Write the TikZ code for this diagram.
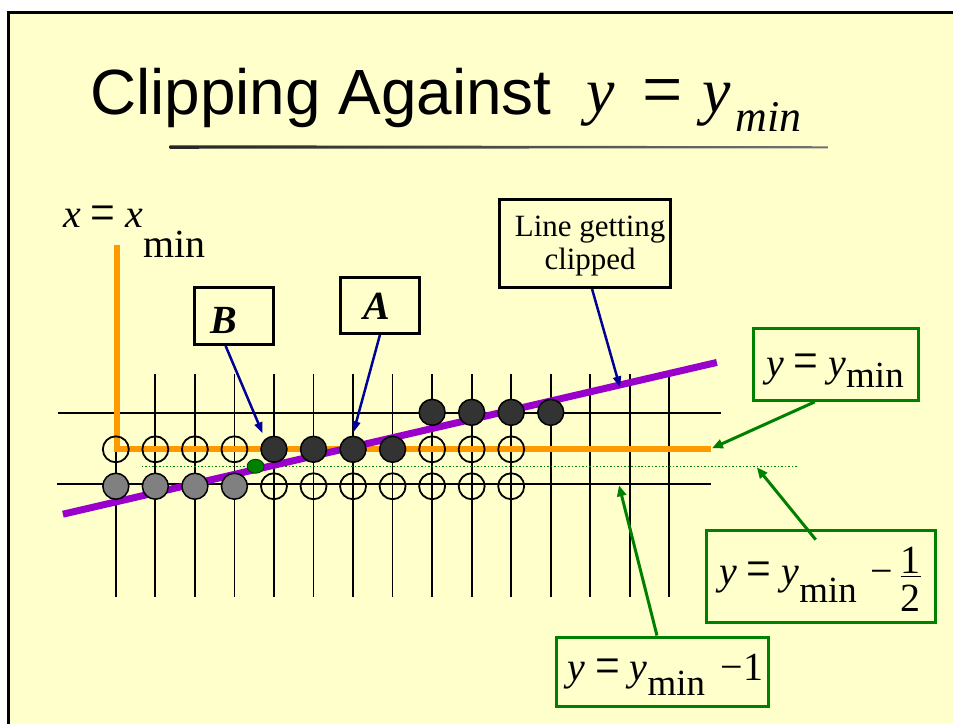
\documentclass[tikz,border=0pt]{standalone}
\usepackage{fontspec}
\usepackage{graphicx}
\setmainfont{Liberation Serif}
\newfontfamily\titlesans{Liberation Sans}
\usetikzlibrary{arrows.meta,calc,shapes.geometric}
\definecolor{bgyellow}{HTML}{FFFFCC}
\definecolor{orng}{HTML}{FF9900}
\definecolor{purp}{HTML}{9900CC}
\definecolor{navy}{HTML}{000099}
\definecolor{grn}{HTML}{008000}
\definecolor{darkc}{HTML}{333333}
\definecolor{grayc}{HTML}{808080}
\newcommand{\bigeq}{\raisebox{-3.5pt}{\scalebox{1.1}[1.4]{=}}}
\begin{document}
\begin{tikzpicture}[x=1pt,y=-1pt,
  gridline/.style={line width=1.8pt, black},
  opencirc/.style={circle, draw=black, line width=1.8pt, minimum size=26pt, inner sep=0pt},
  darkcirc/.style={circle, draw=black, fill=darkc, line width=1.5pt, minimum size=26pt, inner sep=0pt},
  graycirc/.style={circle, draw=black, fill=grayc, line width=1.5pt, minimum size=26pt, inner sep=0pt},
  blackbox/.style={draw=black, line width=3pt, inner sep=0pt},
  greenbox/.style={draw=grn, line width=3pt, inner sep=0pt},
  txt/.style={inner sep=0pt, anchor=base west, font=\fontsize{40}{40}\selectfont},
  navyarrow/.style={draw=navy, line width=2.5pt, -{Triangle[length=11pt,width=8pt]}},
  greenarrow/.style={draw=grn, line width=3pt, -{Triangle[length=11pt,width=9pt]}},
]
% background and frame
\fill[white] (0,0) rectangle (954,725);
\fill[bgyellow] (8.5,12.5) rectangle (954,725);
\draw[line width=3pt] (7,12.5) -- (954,12.5);
\draw[line width=3pt] (8.5,11) -- (8.5,725);
\useasboundingbox (0,0) rectangle (954,725);

% title
\node[inner sep=0pt, anchor=base west, font=\titlesans\fontsize{64}{64}\selectfont] (title) at (90,115) {Clipping Against};
\node[inner sep=0pt, anchor=base west, font=\fontsize{64}{64}\selectfont] (tmath) at (587,113)
  {\textit{y}\hspace{28pt}\raisebox{-4.5pt}{\scalebox{1.12}[1.3]{=}}\hspace{20pt}\textit{y}\hspace{4pt}\raisebox{-19pt}{\fontsize{44}{44}\selectfont\itshape min}};
\shade[left color=black!85, right color=black!55] (170,145.5) -- (830,146.5) -- (830,148.5) -- (170,149) -- cycle;

% grid
\foreach \i in {0,...,14} \draw[gridline] ({116+39.6*\i},375) -- ({116+39.6*\i},598);
\draw[gridline] (58,414) -- (722,414);
\draw[gridline] (57,485) -- (712,485);

% dotted y = ymin - 1/2
\draw[grn, line width=1.5pt, dash pattern=on 1.5pt off 2pt] (142,467) -- (798,467);

% clip window edges
\draw[orng, line width=6pt] (117,245) -- (117,450) -- (712,450);

% the line being clipped
\draw[purp, line width=7pt] (63,515) -- (718,363);

% pixels
\foreach \i in {8,...,11} \node[darkcirc] (t\i) at ({116+39.6*\i},413) {};
\foreach \i in {0,...,3} \node[opencirc] (m\i) at ({116+39.6*\i},450) {};
\foreach \i in {4,...,7} \node[darkcirc] (m\i) at ({116+39.6*\i},450) {};
\foreach \i in {8,...,10} \node[opencirc] (m\i) at ({116+39.6*\i},450) {};
\foreach \i in {0,...,3} \node[graycirc] (b\i) at ({116+39.6*\i},487) {};
\foreach \i in {4,...,10} \node[opencirc] (b\i) at ({116+39.6*\i},487) {};
\node[ellipse, fill=grn, draw=black!50!grn, line width=0.8pt, minimum width=17pt, minimum height=14pt, inner sep=0pt] (gdot) at (256,467) {};

% x = xmin label
\node[txt] (xl) at (63,228) {\textit{x} \bigeq{} \textit{x}\raisebox{-30pt}{min}};

% black boxes
\node[blackbox, minimum width=172pt, minimum height=88pt] (lgc) at (586,244) {};
\node[inner sep=0pt, anchor=base, font=\fontsize{31}{31}\selectfont] (lgc1) at (591,237) {Line getting};
\node[inner sep=0pt, anchor=base, font=\fontsize{31}{31}\selectfont] (lgc2) at (591,270) {clipped};
\node[blackbox, minimum width=79pt, minimum height=57pt] (boxB) at (234.5,316.5) {};
\node[txt, font=\fontsize{40}{40}\selectfont\bfseries\itshape] (txtB) at (211,334) {B};
\node[blackbox, minimum width=79pt, minimum height=56pt] (boxA) at (380.5,306) {};
\node[txt, font=\fontsize{40}{40}\selectfont\bfseries\itshape] (txtA) at (364,320) {A};

% green boxes
\node[greenbox, minimum width=165pt, minimum height=72pt] (g1) at (837.5,365) {};
\node[txt] (g1t) at (767,377) {\textit{y} \bigeq{} \textit{y}\raisebox{-11pt}{\fontsize{37}{37}\selectfont min}};
\node[greenbox, minimum width=229pt, minimum height=92pt] (g2) at (822.5,577) {};
\node[txt] (g2t) at (720,585) {\textit{y} \bigeq{} \textit{y}\raisebox{-18pt}{\fontsize{37}{37}\selectfont min}\hspace{14pt}−};
\node[txt, anchor=base] (g2n) at (912,574) {1};
\node[txt, anchor=base] (g2d) at (912,612) {2};
\draw[line width=1.5pt] (902,577.5) -- (922,577.5);
\node[greenbox, minimum width=213pt, minimum height=70pt] (g3) at (663.5,673) {};
\node[txt] (g3t) at (568,682) {\textit{y} \bigeq{} \textit{y}\raisebox{-15pt}{\fontsize{37}{37}\selectfont min}\hspace{16pt}−1};

% arrows
\coordinate (lgctip) at (621,388);
\coordinate (Btip) at (263,434);
\coordinate (Atip) at (354,433);
\coordinate (g1tip) at (713,449);
\coordinate (g2tip) at (758,468);
\coordinate (g3tip) at (620,486);
\draw[navyarrow] ($(lgc.south)+(7,0)$) -- (lgctip);
\draw[navyarrow] ($(boxB.south)+(-8.5,0)$) -- (Btip);
\draw[navyarrow] (boxA.south) -- (Atip);
\draw[greenarrow] ($(g1.south)+(-21.5,0)$) -- (g1tip);
\draw[greenarrow] ($(g2.north)+(-5.5,11)$) -- (g2tip);
\draw[greenarrow] ($(g3.north)+(-5.5,0)$) -- (g3tip);
\end{tikzpicture}
\end{document}
